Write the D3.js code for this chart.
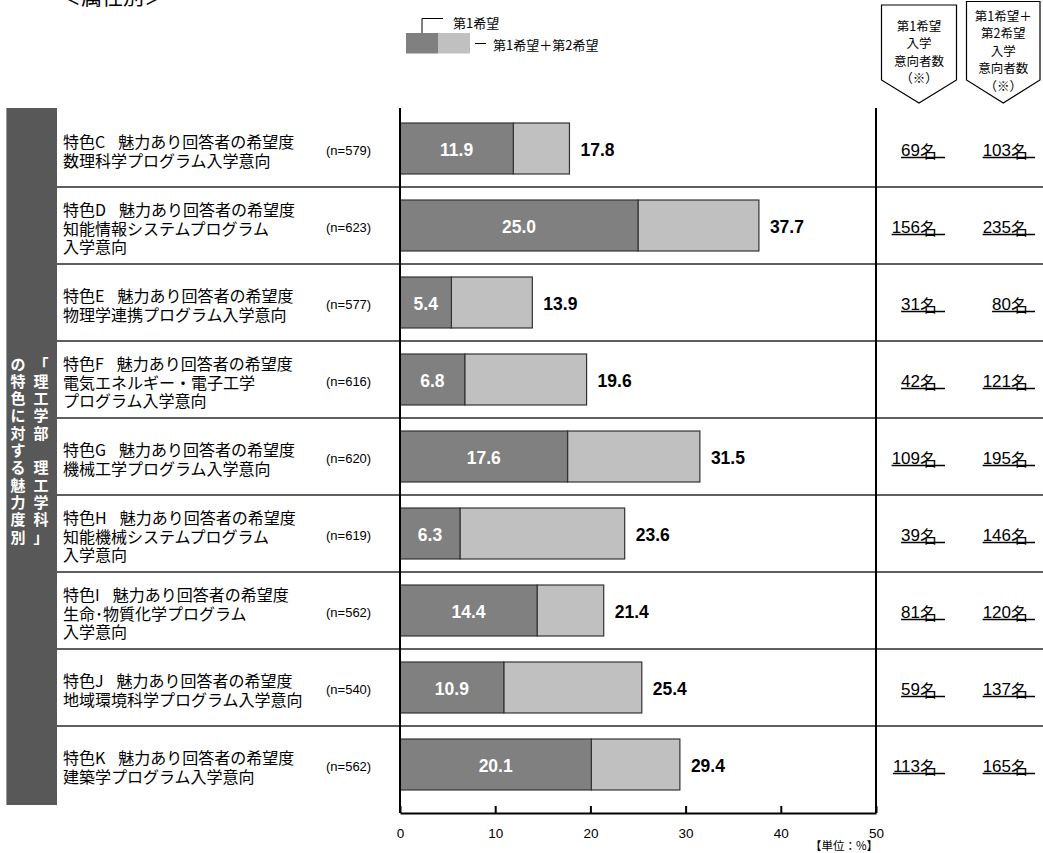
<!DOCTYPE html>
<html><head><meta charset="utf-8">
<script src="https://cdn.jsdelivr.net/npm/d3@7"></script>
<style>html,body{margin:0;padding:0;background:#fff;}svg{display:block;}</style>
</head><body>
<svg id="chart" width="1043" height="853"></svg>
<script>
const codes = ["C","D","E","F","G","H","I","J","K"];
const programLines = [
  ["数理科学プログラム入学意向"],
  ["知能情報システムプログラム","入学意向"],
  ["物理学連携プログラム入学意向"],
  ["電気エネルギー・電子工学","プログラム入学意向"],
  ["機械工学プログラム入学意向"],
  ["知能機械システムプログラム","入学意向"],
  ["生命･物質化学プログラム","入学意向"],
  ["地域環境科学プログラム入学意向"],
  ["建築学プログラム入学意向"]
];
const sampleN = [579,623,577,616,620,619,562,540,562];
const firstChoice = [11.9,25.0,5.4,6.8,17.6,6.3,14.4,10.9,20.1];
const firstSecond = [17.8,37.7,13.9,19.6,31.5,23.6,21.4,25.4,29.4];
const countFirst = [69,156,31,42,109,39,81,59,113];
const countBoth = [103,235,80,121,195,146,120,137,165];
const xTicks = [0,10,20,30,40,50];
const legendLabels = ["第1希望","第1希望＋第2希望"];
const header1 = ["第1希望","入学","意向者数","（※）"];
const header2 = ["第1希望＋","第2希望","入学","意向者数","（※）"];
const bandRight = ["「","理","工","学","部","","理","工","学","科","」"];
const bandLeft = ["の","特","色","に","対","す","る","魅","力","度","別"];

const JP = "'Noto Sans CJK JP', sans-serif";
const LAT = "'Liberation Sans', Arial, sans-serif";
const svg = d3.select("#chart");

const plotTop = 110, rowH = 77;
const x = d3.scaleLinear().domain([0,50]).range([400,876]);
const y = d3.scaleBand().domain(codes).range([plotTop, plotTop + rowH*codes.length]).paddingInner(0.338).paddingOuter(0.169);
const axisY = 813;

// title (cut at top)
svg.append("text").attr("x",60).attr("y",4).attr("font-family",JP).attr("font-size",21).attr("fill","#000").text("＜属性別＞");

// legend
svg.append("rect").attr("x",406).attr("y",33).attr("width",32).attr("height",20.5).attr("fill","#808080");
svg.append("rect").attr("x",438).attr("y",33).attr("width",32).attr("height",20.5).attr("fill","#c0c0c0");
svg.append("path").attr("d","M422,33V18.5H443").attr("fill","none").attr("stroke","#000").attr("stroke-width",1);
svg.append("path").attr("d","M475,43.5H486").attr("fill","none").attr("stroke","#000").attr("stroke-width",1);
svg.append("text").attr("x",453).attr("y",22).attr("dominant-baseline","central").attr("font-family",JP).attr("font-size",13).text(legendLabels[0]);
svg.append("text").attr("x",493).attr("y",44).attr("dominant-baseline","central").attr("font-family",JP).attr("font-size",13).text(legendLabels[1]);

// header boxes
function hbox(x0,x1,y0,ys,ya,lines,ly0){
  const cx=(x0+x1)/2;
  svg.append("path").attr("d",`M${x0},${y0}H${x1}V${ys}L${cx},${ya}L${x0},${ys}Z`).attr("fill","#fff").attr("stroke","#000").attr("stroke-width",1.2);
  lines.forEach((t,i)=>svg.append("text").attr("x",cx).attr("y",ly0+i*17.5).attr("text-anchor","middle").attr("dominant-baseline","central").attr("font-family",JP).attr("font-size",12.5).text(t));
}
hbox(881.5,956.5,5,80,103,header1,25);
hbox(966.5,1040,1.5,80,103,header2,15);

// left band
svg.append("rect").attr("x",6).attr("y",108).attr("width",51).attr("height",697).attr("fill","#585858");
svg.append("line").attr("x1",6.5).attr("x2",6.5).attr("y1",108).attr("y2",805).attr("stroke","#9a9a9a").attr("stroke-width",1);
const bandTop = 363, pitch = 17.3;
bandRight.forEach((c,i)=>svg.append("text").attr("x",41).attr("y",bandTop+i*pitch).attr("text-anchor","middle").attr("dominant-baseline","central").attr("font-family",JP).attr("font-weight","bold").attr("font-size",15).attr("fill","#fff").text(c));
bandLeft.forEach((c,i)=>svg.append("text").attr("x",18).attr("y",bandTop+i*pitch).attr("text-anchor","middle").attr("dominant-baseline","central").attr("font-family",JP).attr("font-weight","bold").attr("font-size",15).attr("fill","#fff").text(c));

// row separators
codes.slice(1).forEach((c,i)=>{
  const yy = plotTop + rowH*(i+1);
  svg.append("line").attr("x1",57).attr("x2",1043).attr("y1",yy).attr("y2",yy).attr("stroke","#2a2a2a").attr("stroke-width",1.5);
});

// category labels
codes.forEach((c,i)=>{
  const lines = 1 + programLines[i].length;
  const cy = y(c) + y.bandwidth()/2 + 2;
  const lh = 18.8;
  const y0 = cy - (lines-1)*lh/2;
  const t1 = svg.append("text").attr("x",63).attr("y",y0).attr("dominant-baseline","central").attr("font-family",JP).attr("font-size",16).attr("fill","#000");
  t1.append("tspan").text("特色"+c);
  t1.append("tspan").attr("dx",13).text("魅力あり回答者の希望度");
  programLines[i].forEach((l,j)=>svg.append("text").attr("x",63).attr("y",y0+(j+1)*lh).attr("dominant-baseline","central").attr("font-family",JP).attr("font-size",16).attr("fill","#000").text(l));
  svg.append("text").attr("x",326).attr("y",cy).attr("dominant-baseline","central").attr("font-family",LAT).attr("font-size",13).attr("fill","#000").text(`(n=${sampleN[i]})`);
});

// bars
const g = svg.append("g");
codes.forEach((c,i)=>{
  const by = y(c), bh = y.bandwidth();
  g.append("rect").attr("x",x(firstChoice[i])).attr("y",by).attr("width",x(firstSecond[i])-x(firstChoice[i])).attr("height",bh).attr("fill","#c0c0c0").attr("stroke","#333").attr("stroke-width",1.2);
  g.append("rect").attr("x",x(0)).attr("y",by).attr("width",x(firstChoice[i])-x(0)).attr("height",bh).attr("fill","#808080").attr("stroke","#333").attr("stroke-width",1.2);
  g.append("text").attr("x",(x(0)+x(firstChoice[i]))/2).attr("y",by+bh/2+1).attr("text-anchor","middle").attr("dominant-baseline","central").attr("font-family",LAT).attr("font-weight","bold").attr("font-size",17.5).attr("fill","#fff").text(firstChoice[i].toFixed(1));
  g.append("text").attr("x",x(firstSecond[i])+11).attr("y",by+bh/2+1).attr("dominant-baseline","central").attr("font-family",LAT).attr("font-weight","bold").attr("font-size",17.5).attr("fill","#000").text(firstSecond[i].toFixed(1));
  // counts
  [[countFirst[i],937,945],[countBoth[i],1028,1035]].forEach(([v,xr,ue])=>{
    const t = svg.append("text").attr("x",xr).attr("y",by+bh/2+1).attr("text-anchor","end").attr("dominant-baseline","central").attr("fill","#000");
    t.append("tspan").attr("font-family",LAT).attr("font-size",17).text(v);
    t.append("tspan").attr("font-family",JP).attr("font-size",17).text("名");
    const w = t.node().getComputedTextLength();
    svg.append("line").attr("x1",xr-w).attr("x2",ue).attr("y1",by+bh/2+9).attr("y2",by+bh/2+9).attr("stroke","#000").attr("stroke-width",1.5);
  });
});

// axis lines
svg.append("line").attr("x1",400).attr("x2",400).attr("y1",108).attr("y2",axisY).attr("stroke","#000").attr("stroke-width",2);
svg.append("line").attr("x1",876).attr("x2",876).attr("y1",108).attr("y2",axisY).attr("stroke","#000").attr("stroke-width",2);
const ax = svg.append("g").attr("transform",`translate(0,${axisY})`)
  .call(d3.axisBottom(x).tickValues(xTicks).tickSizeInner(-7).tickSizeOuter(0).tickPadding(15));
ax.select(".domain").attr("stroke","#000").attr("stroke-width",2);
ax.selectAll(".tick line").attr("stroke","#000").attr("stroke-width",2);
ax.selectAll(".tick text").attr("font-family",LAT).attr("font-size",13.5).attr("fill","#000");
svg.append("text").attr("x",878).attr("y",845).attr("text-anchor","end").attr("dominant-baseline","central").attr("font-family",JP).attr("font-size",11.5).text("【単位：%】");
</script>
</body></html>
